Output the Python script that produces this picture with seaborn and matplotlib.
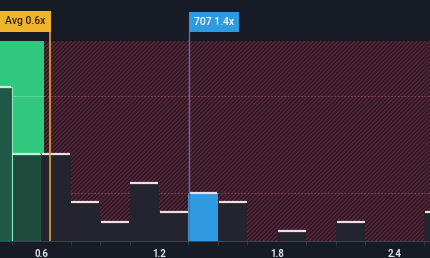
import numpy as np
import pandas as pd
import matplotlib
matplotlib.use("Agg")
import matplotlib.pyplot as plt
import seaborn as sns

# ---- data ----
bin_edges = [0.30, 0.45, 0.60, 0.75, 0.90, 1.05, 1.20, 1.35, 1.50,
             1.65, 1.80, 1.95, 2.10, 2.25, 2.40, 2.55, 2.70]
counts = [16, 9, 9, 4, 2, 6, 3, 5, 4, 0, 1, 0, 2, 0, 0, 3]
tick_values = [0.6, 1.2, 1.8, 2.4]
tick_labels = ["0.6", "1.2", "1.8", "2.4"]
avg_value = 0.646
avg_label = "Avg 0.6x"
company_value = 1.355
company_label = "707 1.4x"
fair_limit = 0.615
region_top = 20.7
grid_values = [5, 15]

BG = "#171b25"
GREEN = "#31c77c"
BLUE = "#2f9ae0"
ORANGE = "#f0b32c"

sns.set_theme(style="dark")
plt.rcParams["font.family"] = ["Roboto", "DejaVu Sans"]
plt.rcParams["hatch.linewidth"] = 0.9
plt.rcParams["hatch.color"] = "#62263c"

fig = plt.figure(figsize=(4.30, 2.58), dpi=100, facecolor=BG)
ax = fig.add_axes([0, 17 / 258, 1, 241 / 258])
ax.set_facecolor(BG)
xmin, xmax = 0.3915, 2.578
ymax = 25.0

df = pd.DataFrame({
    "center": [(a + b) / 2 for a, b in zip(bin_edges[:-1], bin_edges[1:])],
    "count": counts,
})
sns.histplot(data=df, x="center", weights="count", bins=bin_edges, ax=ax,
             color="#23252f", alpha=1, linewidth=0, zorder=3)
bars = list(ax.patches)

for i, p in enumerate(bars):
    left, right = bin_edges[i], bin_edges[i + 1]
    if right <= 0.45 + 1e-9:
        p.set_facecolor("#1f5847")
        p.set_edgecolor("#8fe8b8")
        p.set_linewidth(0.8)
    elif right <= 0.6 + 1e-9:
        p.set_facecolor("#1e4a3e")
        p.set_edgecolor("#8fe8b8")
        p.set_linewidth(0.8)
    elif left <= company_value < right:
        p.set_facecolor(BLUE)
    else:
        p.set_facecolor("#23242e")

# top highlight lines
for i, c in enumerate(counts):
    if c > 0:
        left, right = bin_edges[i], bin_edges[i + 1]
        col = "#bff5d6" if right <= 0.6 + 1e-9 else "#f3dde2"
        ax.hlines(c, left + 0.004, right - 0.004, color=col, lw=1.6, zorder=4)

# background regions
ax.axvspan(xmin - 1, fair_limit, ymin=0, ymax=region_top / ymax,
           facecolor=GREEN, edgecolor="none", zorder=0)
ax.axvspan(fair_limit, xmax + 1, ymin=0, ymax=region_top / ymax,
           facecolor="#2a1a26", edgecolor="#62263c", hatch="////////",
           linewidth=0, zorder=0)

# gridlines
for g in grid_values:
    ax.hlines(g, xmin - 1, fair_limit, color="#5fd99a", lw=0.6, zorder=1)
    ax.hlines(g, fair_limit, xmax + 1, color="#8a4a5a", lw=0.6,
              linestyles=(0, (2, 2)), zorder=1)

# marker lines
ax.axvline(avg_value, ymin=0, ymax=(241 - 31) / 241, color="#e8a030",
           lw=1.2, zorder=5)
ax.axvline(company_value, ymin=0, ymax=(241 - 32) / 241, color="#6c6c8c",
           lw=1.0, zorder=5)

trans = ax.get_xaxis_transform()
ax.annotate(avg_label, xy=(avg_value, (241 - 21.5) / 241), xycoords=trans,
            xytext=(-3.2, 0), textcoords="offset points",
            ha="right", va="center", fontsize=7.5, color="#2a2418",
            fontweight="medium", zorder=6,
            bbox=dict(boxstyle="square,pad=0.5", fc=ORANGE, ec="none"))
ax.annotate(company_label, xy=(company_value, (241 - 22) / 241),
            xycoords=trans, xytext=(3.2, 0), textcoords="offset points",
            ha="left", va="center", fontsize=7.5,
            color="white", fontweight="medium", zorder=6,
            bbox=dict(boxstyle="square,pad=0.5", fc=BLUE, ec="none"))

ax.set_xticks(tick_values)
ax.set_xticklabels(tick_labels)
ax.set_xticks(bin_edges, minor=True)
ax.set_yticks([])
ax.set_xlim(xmin, xmax)
ax.set_ylim(0, ymax)
ax.tick_params(axis="x", which="major", length=0, pad=5.5,
               labelsize=7, labelcolor="#e0e0e8")
ax.tick_params(axis="x", which="minor", length=3, width=0.6,
               color="#3c4150", bottom=True)
for lab in ax.get_xticklabels():
    lab.set_fontweight("bold")
ax.set_xlabel("")
ax.set_ylabel("")
for s in ["top", "left", "right"]:
    ax.spines[s].set_visible(False)
ax.spines["bottom"].set_color("#3c4150")
ax.spines["bottom"].set_linewidth(0.8)
ax.grid(False)

fig.savefig("out.png", dpi=100, facecolor=BG)
